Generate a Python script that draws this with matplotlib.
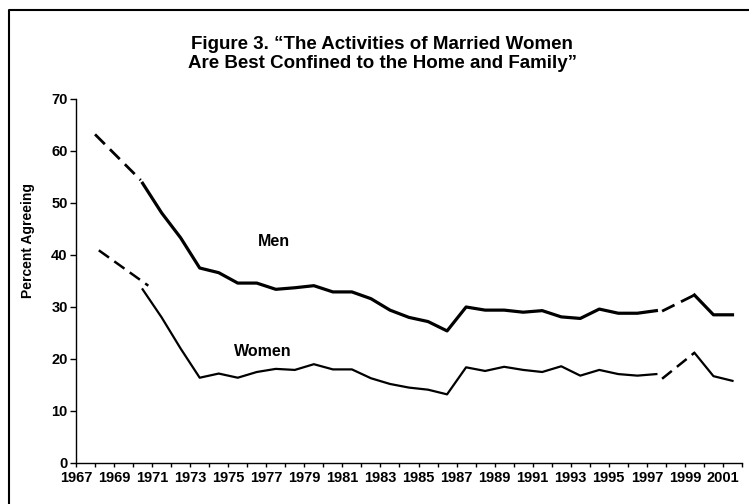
import matplotlib
matplotlib.use("Agg")
import matplotlib.pyplot as plt
from matplotlib.lines import Line2D

plt.rcParams['font.family'] = ['Liberation Sans', 'DejaVu Sans']
plt.rcParams['font.weight'] = 'bold'

# --- data (x = plotted year position, survey points sit mid-year) ---
yr_x = [1970.5, 1971.5, 1972.5, 1973.5, 1974.5, 1975.5, 1976.5, 1977.5, 1978.5,
        1979.5, 1980.5, 1981.5, 1982.5, 1983.5, 1984.5, 1985.5, 1986.5, 1987.5,
        1988.5, 1989.5, 1990.5, 1991.5, 1992.5, 1993.5, 1994.5, 1995.5, 1996.5,
        1997.5]
men = [53.8, 48.1, 43.3, 37.5, 36.6, 34.6, 34.6, 33.4, 33.7,
       34.1, 32.9, 32.9, 31.6, 29.4, 28.0, 27.2, 25.4, 30.0,
       29.4, 29.4, 29.0, 29.3, 28.1, 27.8, 29.6, 28.8, 28.8,
       29.3]
women = [33.4, 28.0, 22.0, 16.4, 17.2, 16.4, 17.5, 18.1, 17.9,
         19.0, 18.0, 18.0, 16.3, 15.2, 14.5, 14.1, 13.2, 18.4,
         17.7, 18.5, 17.9, 17.5, 18.6, 16.8, 17.9, 17.1, 16.8,
         17.1]

# last solid stretch
late_x = [1999.5, 2000.5, 2001.5]
men_late = [32.3, 28.5, 28.5]
women_late = [21.2, 16.7, 15.8]

# dashed bridges (gaps in the series)
men_dash1_x, men_dash1 = [1968.0, 1970.4], [63.2, 54.4]
women_dash1_x, women_dash1 = [1968.2, 1970.8], [40.9, 34.1]
men_dash2_x, men_dash2 = [1997.8, 1999.5], [29.2, 32.3]
women_dash2_x, women_dash2 = [1997.8, 1999.5], [16.2, 21.2]

fig = plt.figure(figsize=(7.49, 5.04), dpi=100)
ax = fig.add_axes([76 / 749, 1 - 463 / 504, (742 - 76) / 749, (463 - 99) / 504])

# men: thick line
ax.plot(yr_x, men, color='black', lw=2.3, solid_joinstyle='round')
ax.plot(late_x, men_late, color='black', lw=2.3, solid_joinstyle='round')
ax.plot(men_dash1_x, men_dash1, color='black', lw=2.0, dashes=(5, 2.6))
ax.plot(men_dash2_x, men_dash2, color='black', lw=2.0, dashes=(5, 2.6))

# women: thinner line
ax.plot(yr_x, women, color='black', lw=1.6, solid_joinstyle='round')
ax.plot(late_x, women_late, color='black', lw=1.6, solid_joinstyle='round')
ax.plot(women_dash1_x, women_dash1, color='black', lw=1.8, dashes=(5, 2.6))
ax.plot(women_dash2_x, women_dash2, color='black', lw=1.8, dashes=(5, 2.6))

ax.text(1977.4, 42.6, 'Men', fontsize=11.5, fontweight='bold', ha='center', va='center')
ax.text(1976.8, 21.5, 'Women', fontsize=11.5, fontweight='bold', ha='center', va='center')

ax.set_xlim(1967, 2002)
ax.set_ylim(0, 70)
ax.set_yticks(range(0, 71, 10))
years = list(range(1967, 2003))
ax.set_xticks(years)
ax.set_xticklabels([str(y) if y % 2 == 1 else '' for y in years])

for s in ['top', 'right']:
    ax.spines[s].set_visible(False)
for s in ['left', 'bottom']:
    ax.spines[s].set_linewidth(1.0)
ax.tick_params(axis='y', length=4, width=1, pad=2, labelsize=10.5)
ax.tick_params(axis='x', length=3, width=1, pad=3, labelsize=10.5)

ax.set_ylabel('Percent Agreeing', fontsize=10, fontweight='bold')
ax.yaxis.set_label_coords(-0.062, 0.61)

fig.text(382 / 749, 1 - 54 / 504,
         'Figure 3. \u201cThe Activities of Married Women\n'
         'Are Best Confined to the Home and Family\u201d',
         ha='center', va='center', fontsize=13.5, fontweight='bold', linespacing=1.12)

# page frame, cropped at right and bottom
fig.add_artist(Line2D([9 / 749, 9 / 749, 1.0], [0.0, 1 - 10 / 504, 1 - 10 / 504],
                      transform=fig.transFigure, color='black', lw=1.5))

fig.savefig('out.png', dpi=100)
